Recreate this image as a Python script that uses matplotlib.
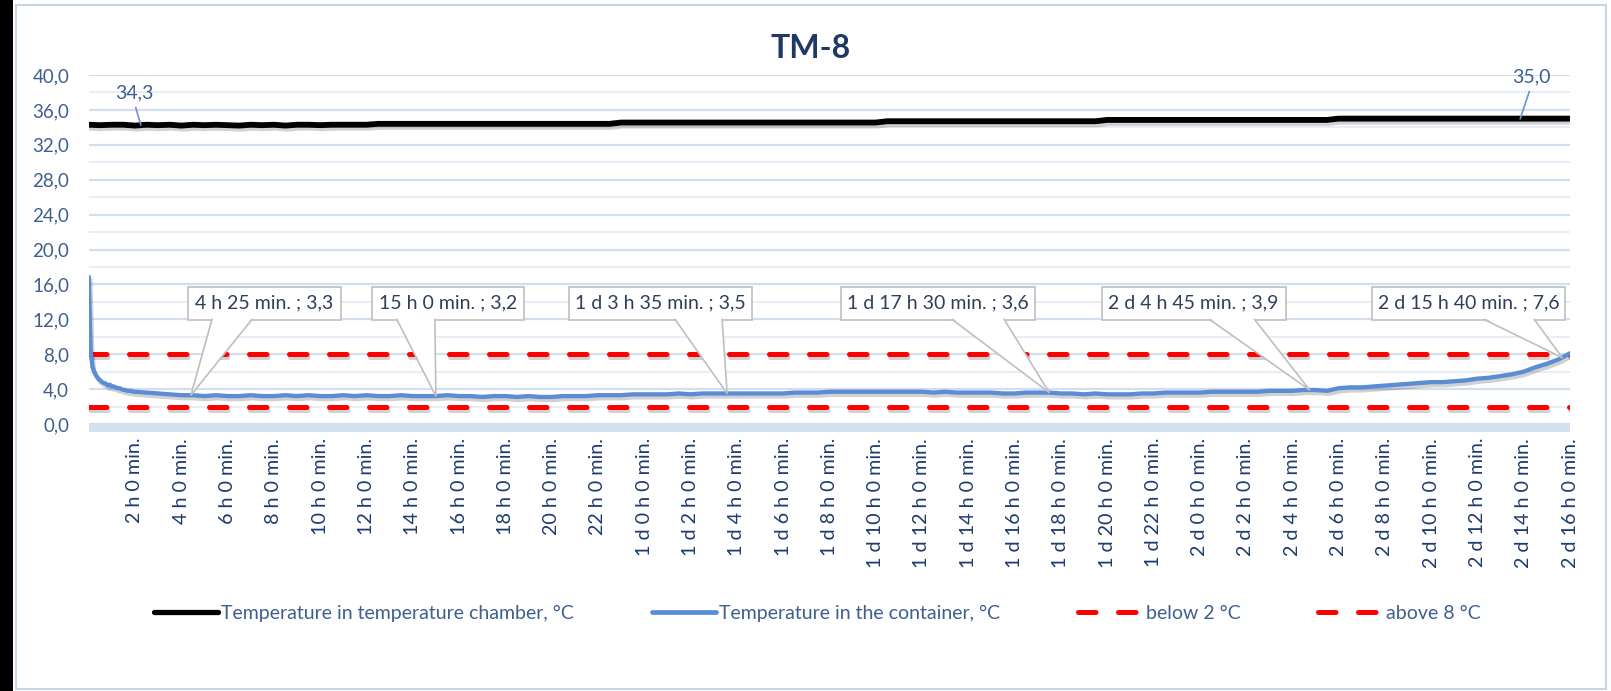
import numpy as np
import matplotlib
matplotlib.use("Agg")
import matplotlib.pyplot as plt
from matplotlib import font_manager
from matplotlib.font_manager import FontProperties
import matplotlib.patheffects as pe
from matplotlib.patches import Rectangle, Polygon
from matplotlib.lines import Line2D
from matplotlib.transforms import IdentityTransform, blended_transform_factory

# ---------------- data ----------------
title = "TM-8"
series_names = ["Temperature in temperature chamber, °C",
                "Temperature in the container, °C",
                "below 2 °C", "above 8 °C"]

# chamber temperature, every 30 min from 0 h to 64 h
chamber_temp = [
    34.3, 34.25, 34.3, 34.3, 34.2, 34.3, 34.25, 34.3, 34.2, 34.3, 34.25, 34.3,
    34.25, 34.2, 34.3, 34.25, 34.3, 34.2, 34.3, 34.3, 34.25, 34.3, 34.3, 34.3, 34.3,
    34.4, 34.4, 34.4, 34.4, 34.4, 34.4, 34.4, 34.4, 34.4, 34.4, 34.4,
    34.4, 34.4, 34.4, 34.4, 34.4, 34.4, 34.4, 34.4, 34.4, 34.4,
    34.55, 34.55, 34.55, 34.55, 34.55, 34.55, 34.55, 34.55, 34.55, 34.55, 34.55, 34.55,
    34.55, 34.55, 34.55, 34.55, 34.55, 34.55, 34.55, 34.55, 34.55, 34.55, 34.55,
    34.7, 34.7, 34.7, 34.7, 34.7, 34.7, 34.7, 34.7, 34.7, 34.7,
    34.7, 34.7, 34.7, 34.7, 34.7, 34.7, 34.7, 34.7, 34.7,
    34.85, 34.85, 34.85, 34.85, 34.85, 34.85, 34.85, 34.85, 34.85, 34.85,
    34.85, 34.85, 34.85, 34.85, 34.85, 34.85, 34.85, 34.85, 34.85, 34.85,
    35.0, 35.0, 35.0, 35.0, 35.0, 35.0, 35.0, 35.0, 35.0, 35.0, 35.0,
    35.0, 35.0, 35.0, 35.0, 35.0, 35.0, 35.0, 35.0, 35.0, 35.0,
]

# container temperature, every 5 min for the first two hours (0 .. 115 min)
container_early = [16.8, 8.5, 6.5, 5.9, 5.5, 5.2, 5.0, 4.8, 4.7, 4.6, 4.4, 4.5,
                   4.3, 4.3, 4.2, 4.1, 4.1, 4.0, 3.9, 3.9, 3.8, 3.8, 3.8, 3.7]

# container temperature, every 30 min from 2 h to 64 h
container_main = [
    3.7, 3.6,  3.5, 3.4,  3.3, 3.3,  3.2, 3.3,  3.2, 3.2,  3.3, 3.2,   # 2-7 h
    3.2, 3.3,  3.2, 3.3,  3.2, 3.2,  3.3, 3.2,  3.3, 3.2,  3.2, 3.3,   # 8-13 h
    3.2, 3.2,  3.2, 3.3,  3.2, 3.2,  3.1, 3.2,  3.2, 3.1,  3.2, 3.1,   # 14-19 h
    3.1, 3.2,  3.2, 3.2,  3.3, 3.3,  3.3, 3.4,  3.4, 3.4,  3.4, 3.5,   # 20-25 h
    3.4, 3.5,  3.5, 3.5,  3.5, 3.5,  3.5, 3.5,  3.5, 3.6,  3.6, 3.6,   # 26-31 h
    3.7, 3.7,  3.7, 3.7,  3.7, 3.7,  3.7, 3.7,  3.7, 3.6,  3.7, 3.6,   # 32-37 h
    3.6, 3.6,  3.6, 3.5,  3.5, 3.6,  3.6, 3.6,  3.5, 3.5,  3.4, 3.5,   # 38-43 h
    3.4, 3.4,  3.4, 3.5,  3.5, 3.6,  3.6, 3.6,  3.6, 3.7,  3.7, 3.7,   # 44-49 h
    3.7, 3.7,  3.8, 3.8,  3.8, 3.9,  3.9, 3.8,  4.1, 4.2,  4.2, 4.3,   # 50-55 h
    4.4, 4.5,  4.6, 4.7,  4.8, 4.8,  4.9, 5.0,  5.2, 5.3,  5.5, 5.7,   # 56-61 h
    6.0, 6.5,  6.9, 7.4,  8.1,                                          # 62-64 h
]

below_limit = 2.0
above_limit = 8.0

callout_time_h = [4 + 25 / 60, 15.0, 27 + 35 / 60, 41.5, 52.75, 63 + 40 / 60]
callout_value = [3.3, 3.2, 3.5, 3.6, 3.9, 7.6]

chamber_label_time_h = [2.25, 61.85]
chamber_label_value = [34.3, 35.0]

tick_hours = list(range(2, 65, 2))
y_ticks = list(range(0, 41, 4))

# ---------------- helpers ----------------
def pick(names):
    for n in names:
        try:
            font_manager.findfont(FontProperties(family=n), fallback_to_default=False)
            return n
        except Exception:
            pass
    return "DejaVu Sans"

MAIN = pick(["Lato", "Open Sans", "DejaVu Sans"])
plt.rcParams["font.family"] = [MAIN, "DejaVu Sans"]


def fmt_time(hours):
    total_min = int(round(hours * 60))
    d, rem = divmod(total_min, 24 * 60)
    h, m = divmod(rem, 60)
    if d > 0:
        return f"{d} d {h} h {m} min."
    return f"{h} h {m} min."


def fmt_num(v):
    return f"{v:.1f}".replace(".", ",")


tick_labels = [fmt_time(h) for h in tick_hours]

# ---------------- figure ----------------
W, H = 1611, 691
fig = plt.figure(figsize=(W / 100, H / 100), dpi=100)
fig.patch.set_facecolor("white")

ax_left, ax_right = 88.7, 1570.0
ax_top, ax_bottom = 75.0, 424.0
ax = fig.add_axes([ax_left / W, (H - ax_bottom) / H,
                   (ax_right - ax_left) / W, (ax_bottom - ax_top) / H])
ax.set_xlim(0, 64)
ax.set_ylim(0, 40)

TICK_BLUE = "#3F5F8F"
XT = "#1F3B6E"

# axes / grid
for s in ["top", "left", "right", "bottom"]:
    ax.spines[s].set_visible(False)
ax.tick_params(axis="y", which="both", length=0, pad=14)
ax.tick_params(axis="x", which="both", length=0, pad=10, labelrotation=90)
ax.set_yticks(y_ticks)
ax.set_yticklabels([fmt_num(v) for v in y_ticks], fontsize=13.5, color=TICK_BLUE)
ax.set_yticks(list(range(2, 40, 4)), minor=True)
ax.grid(which="major", axis="y", color="#D3DEEF", lw=1.6, zorder=0)
ax.grid(which="minor", axis="y", color="#E6EDF7", lw=1.3, zorder=0)
ax.set_xticks(tick_hours)
ax.set_xticklabels(tick_labels, fontsize=14.2, color=XT)
for lab in ax.get_xticklabels():
    lab.set_rotation(90)
    lab.set_va("top")
    lab.set_ha("center")

# thick horizontal-axis band just under zero
band_tr = blended_transform_factory(ax.transAxes, IdentityTransform())
ax.add_patch(Rectangle((0, H - 431.5), 1, 7.5, transform=band_tr, fc="#D3E1F1",
                       ec="none", clip_on=False, zorder=1))

# series
chamber_t = 0.5 * np.arange(len(chamber_temp))
cont_t = np.concatenate([np.arange(len(container_early)) * 5 / 60.0,
                         2.0 + 0.5 * np.arange(len(container_main))])
cont_v = np.array(container_early + container_main, dtype=float)

shadow = lambda: [pe.SimpleLineShadow(offset=(1.2, -2.2), shadow_color="black",
                                      alpha=0.18), pe.Normal()]

BLUE = "#5B8DD5"
RED = "#FF0000"
dash = (0, (3.5, 4.5))

ax.plot([0, 64], [below_limit, below_limit], color=RED, lw=3.6, ls=dash,
        dash_capstyle="round", zorder=3, path_effects=shadow())
ax.plot([0, 64], [above_limit, above_limit], color=RED, lw=3.6, ls=dash,
        dash_capstyle="round", zorder=3, path_effects=shadow())
ax.plot(chamber_t, chamber_temp, color="black", lw=4.2, zorder=4,
        solid_joinstyle="round", path_effects=shadow())
ax.plot(cont_t, cont_v, color=BLUE, lw=3.1, zorder=5,
        solid_joinstyle="round", path_effects=shadow())

# ---------------- callouts ----------------
ID = IdentityTransform()
GRAY = "#BFBFBF"
# box left offset from tip (px), box width (px), wedge base left/right from box left (px)
callout_layout = [(-3, 153, 24, 64), (-64, 152, 25, 63), (-158, 183, 106, 153),
                  (-208, 194, 111, 163), (-208, 184, 108, 153), (-190, 193, 112, 162)]
box_top = H - 286.5
box_bot = H - 319.5
for (t, v), (dx, bw, bl, br) in zip(zip(callout_time_h, callout_value), callout_layout):
    tx, ty = ax.transData.transform((t, v))
    left = tx + dx
    fig.add_artist(Rectangle((left, box_bot), bw, box_top - box_bot, transform=ID,
                             fc="white", ec=GRAY, lw=1.2, zorder=20))
    fig.add_artist(Polygon([(left + bl, box_bot + 1.5), (left + br, box_bot + 1.5), (tx, ty)],
                           closed=True, transform=ID, fc="white", ec="none", zorder=21))
    fig.add_artist(Line2D([left + bl, tx, left + br], [box_bot, ty, box_bot],
                          transform=ID, color=GRAY, lw=1.2, zorder=22))
    fig.text((left + bw / 2) / W, ((box_top + box_bot) / 2) / H,
             f"{fmt_time(t)} ; {fmt_num(v)}", ha="center", va="center",
             fontsize=14, color="#2F3F5A", zorder=23)

# chamber data labels
chamber_label_layout = [((-6, 32), (-5, 17)), ((11, 42), (9, 27))]
for (t, v), ((tdx, tdy), (ldx, ldy)) in zip(zip(chamber_label_time_h, chamber_label_value),
                                              chamber_label_layout):
    tx, ty = ax.transData.transform((t, v))
    fig.add_artist(Line2D([tx + ldx, tx], [ty + ldy, ty], transform=ID,
                          color="#6E93C8", lw=1.2, zorder=22))
    fig.text((tx + tdx) / W, (ty + tdy) / H, fmt_num(v), ha="center", va="center",
             fontsize=14, color=TICK_BLUE, zorder=23)

# title
fig.text(811 / W, 1 - 48 / H, title, ha="center", va="center", fontsize=23,
         fontweight="bold", color="#1F3864")

# legend
handles = [
    Line2D([], [], color="black", lw=3.8, solid_capstyle="round"),
    Line2D([], [], color=BLUE, lw=3.4, solid_capstyle="round"),
    Line2D([], [], color=RED, lw=3.6, ls=dash, dash_capstyle="round"),
    Line2D([], [], color=RED, lw=3.6, ls=dash, dash_capstyle="round"),
]
leg = fig.legend(handles, series_names, loc="center", bbox_to_anchor=(817 / W, 1 - 613 / H),
                 ncol=4, frameon=False, fontsize=14, handlelength=3.3,
                 handletextpad=0.18, columnspacing=4.0)
for txt in leg.get_texts():
    txt.set_color(TICK_BLUE)

# frame decorations
fig.add_artist(Rectangle((0, 0), 13 / W, 1, transform=fig.transFigure,
                         fc="black", ec="none", zorder=30))
fig.add_artist(Rectangle((16 / W, 2 / H), (1606 - 16) / W, (686 - 2) / H,
                         transform=fig.transFigure, fc="none", ec="#C5D5EA",
                         lw=1.5, zorder=30))

fig.savefig("out.png", dpi=100, facecolor="white")
